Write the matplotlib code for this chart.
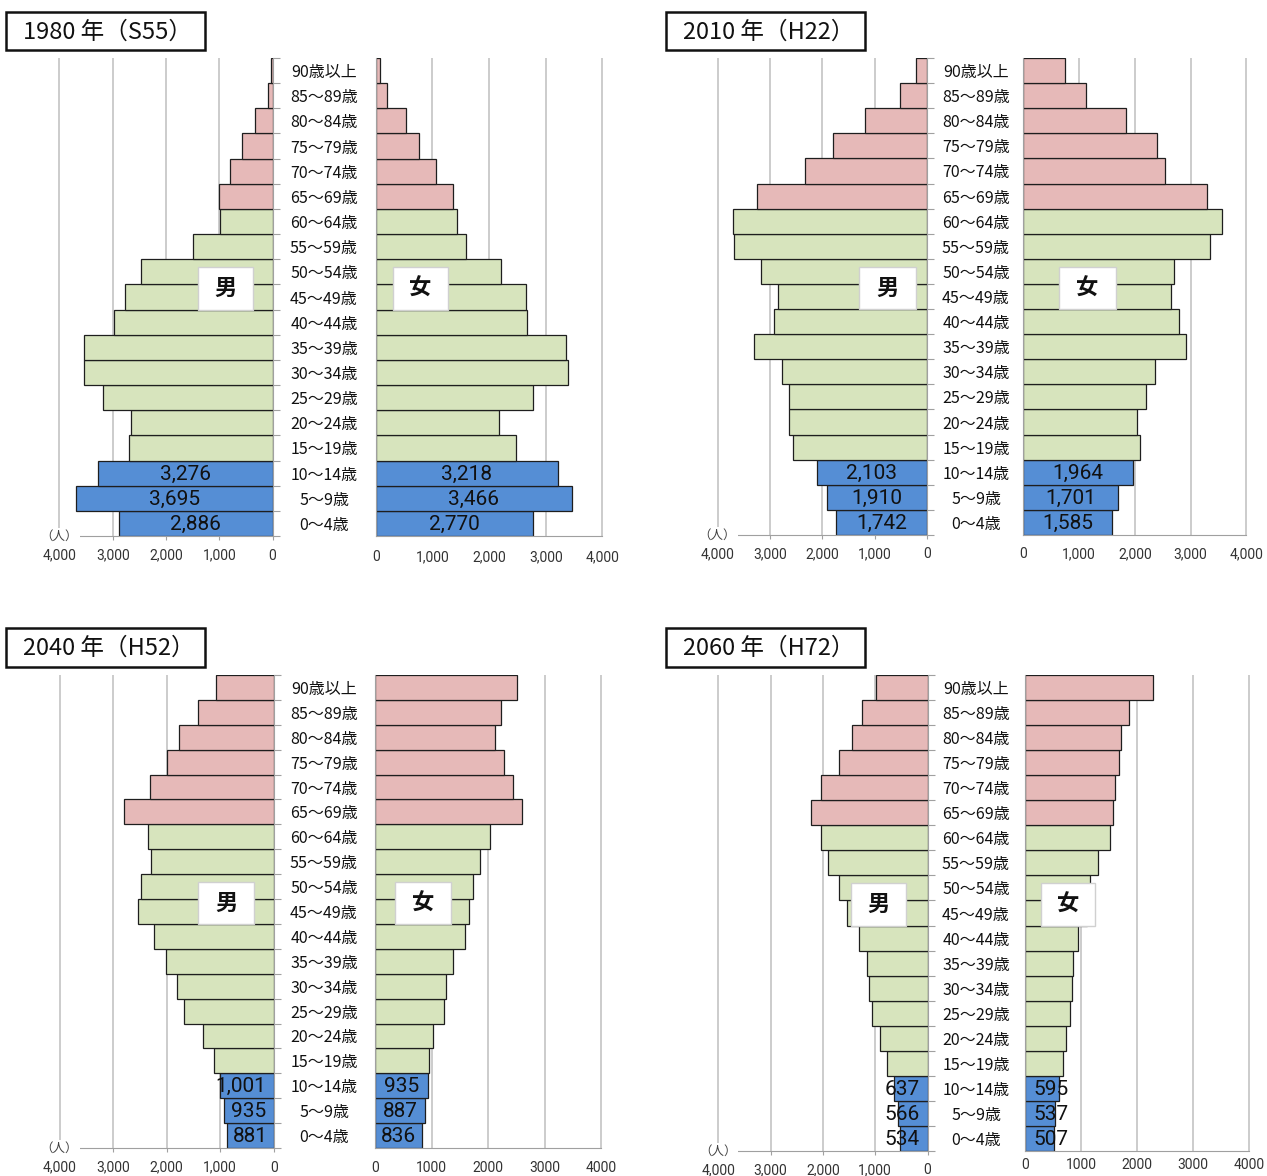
import numpy as np
import matplotlib
matplotlib.use("Agg")
import matplotlib.pyplot as plt
from matplotlib.patches import Rectangle
from matplotlib import transforms
from matplotlib.ticker import FuncFormatter

plt.rcParams['font.family'] = ['Noto Sans CJK JP', 'DejaVu Sans']

# ---- data (youngest to oldest) ----
age_groups = ["0～4歳", "5～9歳", "10～14歳", "15～19歳", "20～24歳", "25～29歳",
              "30～34歳", "35～39歳", "40～44歳", "45～49歳", "50～54歳", "55～59歳",
              "60～64歳", "65～69歳", "70～74歳", "75～79歳", "80～84歳", "85～89歳",
              "90歳以上"]

titles = ["1980 年（S55）", "2010 年（H22）", "2040 年（H52）", "2060 年（H72）"]

male_1980 = [2886, 3695, 3276, 2696, 2659, 3188, 3531, 3546, 2980, 2771,
             2473, 1490, 995, 1010, 797, 574, 335, 95, 30]
female_1980 = [2770, 3466, 3218, 2473, 2172, 2774, 3384, 3363, 2662, 2648,
               2214, 1597, 1436, 1359, 1058, 771, 525, 193, 80]

male_2010 = [1742, 1910, 2103, 2563, 2630, 2644, 2770, 3304, 2926, 2852,
             3178, 3689, 3711, 3244, 2333, 1800, 1185, 519, 207]
female_2010 = [1585, 1701, 1964, 2091, 2035, 2209, 2362, 2920, 2794, 2641,
               2697, 3345, 3568, 3289, 2551, 2404, 1840, 1115, 739]

male_2040 = [881, 935, 1001, 1111, 1319, 1674, 1807, 2015, 2237, 2541,
             2481, 2289, 2348, 2800, 2319, 1993, 1763, 1415, 1074]
female_2040 = [836, 887, 935, 947, 1032, 1228, 1256, 1375, 1593, 1663,
               1733, 1853, 2028, 2596, 2442, 2274, 2126, 2225, 2512]

male_2060 = [534, 566, 637, 772, 905, 1061, 1121, 1165, 1314, 1529,
             1685, 1907, 2041, 2234, 2041, 1685, 1447, 1254, 980]
female_2060 = [507, 537, 595, 667, 722, 799, 833, 847, 938, 1100,
               1160, 1292, 1507, 1563, 1597, 1681, 1715, 1854, 2292]

x_ticks = [0, 1000, 2000, 3000, 4000]

# ---- styling ----
C_YOUNG = "#558ED5"
C_WORK = "#D7E4BD"
C_OLD = "#E6B9B8"
EDGE = "#1E1E1E"
GRID = "#BFBFBF"
AXIS = "#A0A0A0"


def band_color(i):
    if i <= 2:
        return C_YOUNG
    if i <= 12:
        return C_WORK
    return C_OLD


W, H = 1267, 1176
fig = plt.figure(figsize=(W / 100, H / 100), dpi=100)


def px_axes(x0, x1, y0, y1):
    return fig.add_axes([x0 / W, 1 - y1 / H, (x1 - x0) / W, (y1 - y0) / H])


def px_rect(x0, y0, x1, y1, **kw):
    r = Rectangle((x0 / W, 1 - y1 / H), (x1 - x0) / W, (y1 - y0) / H,
                  transform=fig.transFigure, **kw)
    fig.add_artist(r)
    return r


layouts = [
    dict(male=male_1980, female=female_1980, comma_f=True, fpad=10,
         mx=(59.5, 272.6), fx=(375.8, 602.4), y=(58, 536), cx=324,
         tbox=(6, 12, 205, 50), mbox=(198, 267, 253, 310), fbox=(393, 267, 448, 310)),
    dict(male=male_2010, female=female_2010, comma_f=True, fpad=9,
         mx=(717.5, 927.0), fx=(1023.4, 1246.2), y=(58, 535), cx=976,
         tbox=(666, 12, 865, 50), mbox=(859, 267, 916, 309), fbox=(1059, 267, 1116, 309)),
    dict(male=male_2040, female=female_2040, comma_f=False, fpad=9,
         mx=(59.5, 273.8), fx=(375.0, 601.2), y=(675, 1148), cx=324,
         tbox=(6, 628, 205, 667), mbox=(198, 882, 254, 924), fbox=(395, 882, 451, 924)),
    dict(male=male_2060, female=female_2060, comma_f=False, fpad=5,
         mx=(718.2, 927.5), fx=(1025.3, 1248.9), y=(675, 1151), cx=976,
         tbox=(666, 628, 865, 667), mbox=(851, 883, 906, 926), fbox=(1041, 883, 1095, 926)),
]

comma_fmt = FuncFormatter(lambda v, p: f"{int(v):,}")
plain_fmt = FuncFormatter(lambda v, p: f"{int(v)}")

ypos = np.arange(len(age_groups))
colors = [band_color(i) for i in ypos]


def label_width_px(s):
    # approximate rendered width of a value label at 15pt Roboto
    return sum(4.5 if c == "," else 11.5 for c in s)


for title, L in zip(titles, layouts):
    ax_m = px_axes(L["mx"][0], L["mx"][1], L["y"][0], L["y"][1])
    ax_f = px_axes(L["fx"][0], L["fx"][1], L["y"][0], L["y"][1])

    for ax, vals, side, (ax0, ax1) in ((ax_m, L["male"], "m", L["mx"]),
                                       (ax_f, L["female"], "f", L["fx"])):
        ax.set_ylim(-0.5, 18.5)
        if side == "m":
            ax.set_xlim(4000, 0)
        else:
            ax.set_xlim(0, 4000)
        ax.vlines([1000, 2000, 3000, 4000], -0.5, 18.5, colors=GRID, lw=1.1,
                  zorder=0, clip_on=False)
        ax.barh(ypos, vals, height=1.0, color=colors, edgecolor=EDGE,
                linewidth=0.9, zorder=2)
        px_per_unit = (ax1 - ax0) / 4000.0
        for i in range(3):
            v = vals[i]
            s = f"{v:,}"
            bar_w = v * px_per_unit
            if label_width_px(s) > bar_w - 4:
                # label wider than its bar: anchor near the base
                sgn = -1 if side == "m" else 1
                off = transforms.ScaledTranslation(sgn * 8 / 100, 0, fig.dpi_scale_trans)
                ax.text(0, i - 0.04, s, ha="right" if side == "m" else "left",
                        va="center", fontsize=15, family="Roboto", color="#111111",
                        zorder=4, clip_on=False, transform=ax.transData + off)
            else:
                ax.text(v / 2, i - 0.04, s, ha="center", va="center",
                        fontsize=15, family="Roboto", color="#111111", zorder=4,
                        clip_on=False)
        ax.set_xticks(x_ticks)
        ax.spines["top"].set_visible(False)
        ax.spines["bottom"].set_color(AXIS)
        ax.tick_params(axis="x", length=3, color=AXIS, pad=6, labelsize=10,
                       labelcolor="#333333")
        for lab in ax.get_xticklabels():
            lab.set_family("Roboto")
        ax.set_facecolor("none")

    # male: axis on the right with ticks at each band boundary
    ax_m.spines["left"].set_visible(False)
    ax_m.spines["right"].set_color(AXIS)
    ax_m.yaxis.tick_right()
    ax_m.set_yticks(np.arange(-0.5, 19, 1.0))
    ax_m.set_yticklabels([])
    ax_m.tick_params(axis="y", length=5, color=AXIS, direction="out")
    ax_m.xaxis.set_major_formatter(comma_fmt)

    ax_f.spines["right"].set_visible(False)
    ax_f.spines["left"].set_color(AXIS)
    ax_f.set_yticks([])
    ax_f.tick_params(axis="x", length=0, pad=L["fpad"])
    ax_f.xaxis.set_major_formatter(comma_fmt if L["comma_f"] else plain_fmt)

    # unit label
    ax_m.text(4000, -0.5, "（人）", ha="center", va="center", fontsize=9,
              color="#404040", zorder=5, clip_on=False,
              bbox=dict(facecolor="white", edgecolor="none", pad=1.0))

    # age labels between the halves
    tr = transforms.blended_transform_factory(fig.transFigure, ax_m.transData)
    for i, name in enumerate(age_groups):
        ax_m.text(L["cx"] / W, i - 0.08, name, transform=tr, ha="center",
                  va="center", fontsize=11.5, color="#111111", clip_on=False)

    # title box
    x0, y0, x1, y1 = L["tbox"]
    px_rect(x0, y0, x1, y1, facecolor="white", edgecolor="#111111", lw=1.8)
    fig.text((x0 + 17) / W, 1 - ((y0 + y1) / 2 + 1) / H, title, ha="left",
             va="center", fontsize=17, color="#111111")

    # gender boxes
    for (bx0, by0, bx1, by1), ch in ((L["mbox"], "男"), (L["fbox"], "女")):
        px_rect(bx0, by0, bx1, by1, facecolor="white", edgecolor="#D0D0D0",
                lw=1.0, zorder=3)
        fig.text((bx0 + bx1) / 2 / W, 1 - (by0 + by1) / 2 / H, ch,
                 ha="center", va="center", fontsize=16, fontweight="bold",
                 color="#111111", zorder=4)

fig.savefig("out.png", dpi=100, facecolor="white")
